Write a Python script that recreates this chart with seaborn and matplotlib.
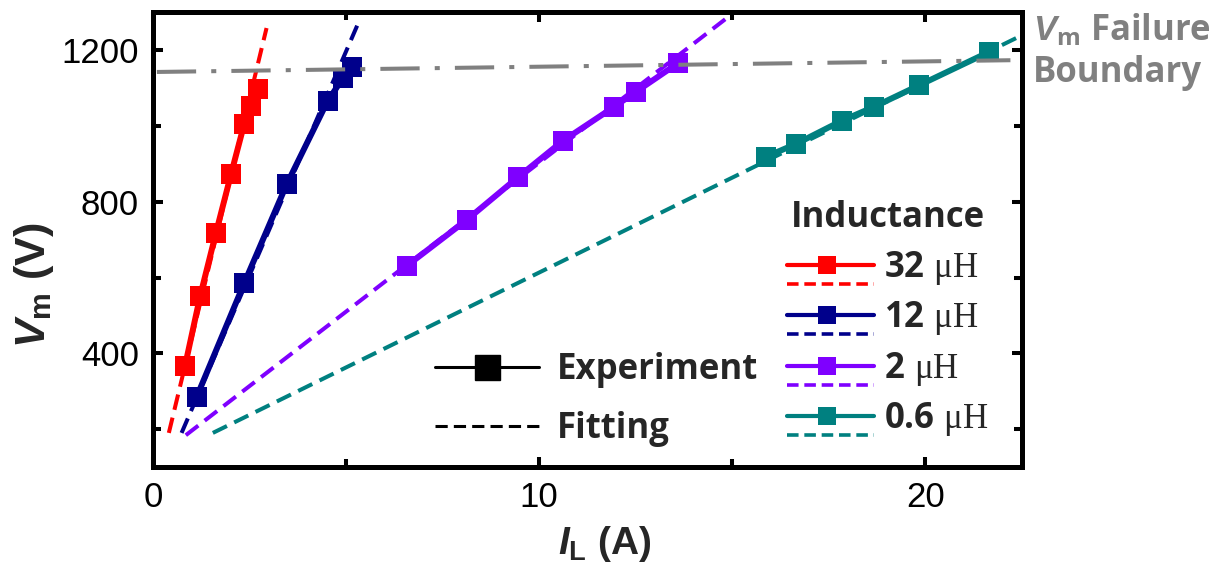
import numpy as np
import pandas as pd
import matplotlib
matplotlib.use("Agg")
import matplotlib.pyplot as plt
import seaborn as sns
from matplotlib.lines import Line2D
from matplotlib.ticker import FixedLocator

# ---- measured data: peak voltage V_m versus load current I_L ----
inductance_labels = ["32 μH", "12 μH", "2 μH", "0.6 μH"]
series_colors = ["#FF0000", "#00008B", "#7F00FF", "#008080"]

current_32uH = [0.83, 1.22, 1.63, 2.02, 2.36, 2.54, 2.72]
voltage_32uH = [367, 551, 718, 873, 1005, 1053, 1098]

current_12uH = [1.13, 2.36, 3.46, 4.52, 4.92, 5.15]
voltage_12uH = [285, 585, 846, 1066, 1127, 1157]

current_2uH = [6.57, 8.12, 9.46, 10.61, 11.94, 12.51, 13.59]
voltage_2uH = [631, 752, 866, 961, 1051, 1091, 1166]

current_06uH = [15.87, 16.65, 17.83, 18.67, 19.84, 21.65]
voltage_06uH = [919, 953, 1014, 1051, 1108, 1196]

# ---- linear fits (end points of each fitted line) ----
fit_current_32uH = [0.41, 2.94]
fit_voltage_32uH = [190, 1259]
fit_current_12uH = [0.74, 5.34]
fit_voltage_12uH = [190, 1278]
fit_current_2uH = [0.85, 14.89]
fit_voltage_2uH = [184, 1288]
fit_current_06uH = [1.55, 22.5]
fit_voltage_06uH = [190, 1240]

# ---- V_m failure boundary ----
boundary_current = [0.1, 22.2]
boundary_voltage = [1143, 1174]

x_major_ticks = [0, 10, 20]
x_minor_ticks = [5, 15]
y_major_ticks = [400, 800, 1200]
y_minor_ticks = [200, 600, 1000]

exp_current = [current_32uH, current_12uH, current_2uH, current_06uH]
exp_voltage = [voltage_32uH, voltage_12uH, voltage_2uH, voltage_06uH]
fit_current = [fit_current_32uH, fit_current_12uH, fit_current_2uH, fit_current_06uH]
fit_voltage = [fit_voltage_32uH, fit_voltage_12uH, fit_voltage_2uH, fit_voltage_06uH]

exp_df = pd.concat(
    [pd.DataFrame({"I": i, "V": v, "L": lab})
     for i, v, lab in zip(exp_current, exp_voltage, inductance_labels)],
    ignore_index=True)
fit_df = pd.concat(
    [pd.DataFrame({"I": i, "V": v, "L": lab})
     for i, v, lab in zip(fit_current, fit_voltage, inductance_labels)],
    ignore_index=True)
palette = dict(zip(inductance_labels, series_colors))

sns.set_theme(style="ticks")
plt.rcParams.update({
    "font.family": ["Liberation Sans", "DejaVu Sans"],
    "mathtext.fontset": "custom",
    "mathtext.rm": "Liberation Serif",
    "mathtext.it": "Liberation Sans:italic:bold",
    "mathtext.bf": "Open Sans:bold",
    "mathtext.sf": "Liberation Sans:bold",
})

fig = plt.figure(figsize=(12.09, 5.67), dpi=100)
ax = fig.add_axes([0.12655, 0.17637, 0.71877, 0.80159])

# fitted lines (dashed, beneath the measurements)
sns.lineplot(data=fit_df, x="I", y="V", hue="L", palette=palette,
             estimator=None, sort=False, legend=False, ax=ax,
             linewidth=2.9, linestyle=(0, (3.9, 2.0)), zorder=2)

# measurements
sns.lineplot(data=exp_df, x="I", y="V", hue="L", palette=palette,
             estimator=None, sort=False, legend=False, ax=ax,
             linewidth=4.3, marker="s", markersize=15, markeredgewidth=0,
             zorder=3)

# failure boundary
sns.lineplot(x=boundary_current, y=boundary_voltage, color="#808080",
             linewidth=2.9, linestyle=(0, (9.75, 3.75, 1.25, 3.75)),
             estimator=None, sort=False, ax=ax, zorder=4)

ax.set_xlim(0, 22.5)
ax.set_ylim(100, 1300)
ax.xaxis.set_major_locator(FixedLocator(x_major_ticks))
ax.xaxis.set_minor_locator(FixedLocator(x_minor_ticks))
ax.yaxis.set_major_locator(FixedLocator(y_major_ticks))
ax.yaxis.set_minor_locator(FixedLocator(y_minor_ticks))
ax.tick_params(which="both", direction="in", top=True, right=True,
               width=2.9, colors="black", labelsize=25, pad=10)
ax.tick_params(which="major", length=7)
ax.tick_params(which="minor", length=6)
for side in ax.spines.values():
    side.set_linewidth(3.6)
    side.set_color("black")

ax.set_xlabel(r"$I_{\mathsf{L}}$ (A)", fontsize=28, fontweight="bold")
ax.xaxis.set_label_coords(0.52, -0.125)
ax.set_ylabel(r"$V_{\mathsf{m}}$ (V)", fontsize=31, fontweight="bold")
ax.yaxis.set_label_coords(-0.112, 0.40)

# legend: line style meaning
legend_font = {"family": "Open Sans", "weight": "bold", "size": 25}
style_handles = [
    Line2D([], [], color="black", linewidth=2.2, marker="s", markersize=18),
    Line2D([], [], color="black", linewidth=2.2, linestyle=(0, (4, 2))),
]
leg1 = ax.legend(style_handles, ["Experiment", "Fitting"], prop=legend_font,
                 frameon=False, loc="upper left", bbox_to_anchor=(0.3245, 0.252),
                 borderpad=0, borderaxespad=0, handlelength=3.0,
                 handletextpad=0.5, labelspacing=0.65)
ax.add_artist(leg1)


class SolidOverDashed:
    """Legend key: experiment line with marker above a dashed fit line."""

    def legend_artist(self, legend, orig_handle, fontsize, handlebox):
        x0 = -handlebox.xdescent
        w = handlebox.width
        yc = (handlebox.height - handlebox.ydescent) / 2
        c = orig_handle.get_color()
        tr = handlebox.get_transform()
        solid = Line2D([x0, x0 + w], [yc, yc], color=c, linewidth=3.0,
                       transform=tr)
        mark = Line2D([x0 + w * 0.46], [yc], color=c, marker="s",
                      markersize=13, markeredgewidth=0, transform=tr)
        dash = Line2D([x0, x0 + w], [yc - 14, yc - 14], color=c,
                      linewidth=2.6, linestyle=(0, (3.2, 1.6)), transform=tr)
        for a in (dash, solid, mark):
            handlebox.add_artist(a)
        return solid


ind_handles = [Line2D([], [], color=c) for c in series_colors]
ind_labels = [r"$\mathbf{%s}\ \mathrm{μH}$" % lab.split()[0]
              for lab in inductance_labels]
leg2 = ax.legend(ind_handles, ind_labels, prop={"size": 25}, frameon=False,
                 loc="upper left", bbox_to_anchor=(0.7296, 0.587),
                 borderpad=0, borderaxespad=0, handlelength=2.5,
                 handletextpad=0.3, labelspacing=0.36,
                 title="Inductance",
                 title_fontproperties=legend_font,
                 handler_map={Line2D: SolidOverDashed()})

# boundary annotation outside the frame
fig.text(1033 / 1209, 1 - 13 / 567, "$V_{\\mathbf{m}}$ Failure\nBoundary",
         color="#808080", fontsize=25, family="Open Sans", weight="bold",
         ha="left", va="top", linespacing=1.2)

fig.savefig("out.png", dpi=100)
